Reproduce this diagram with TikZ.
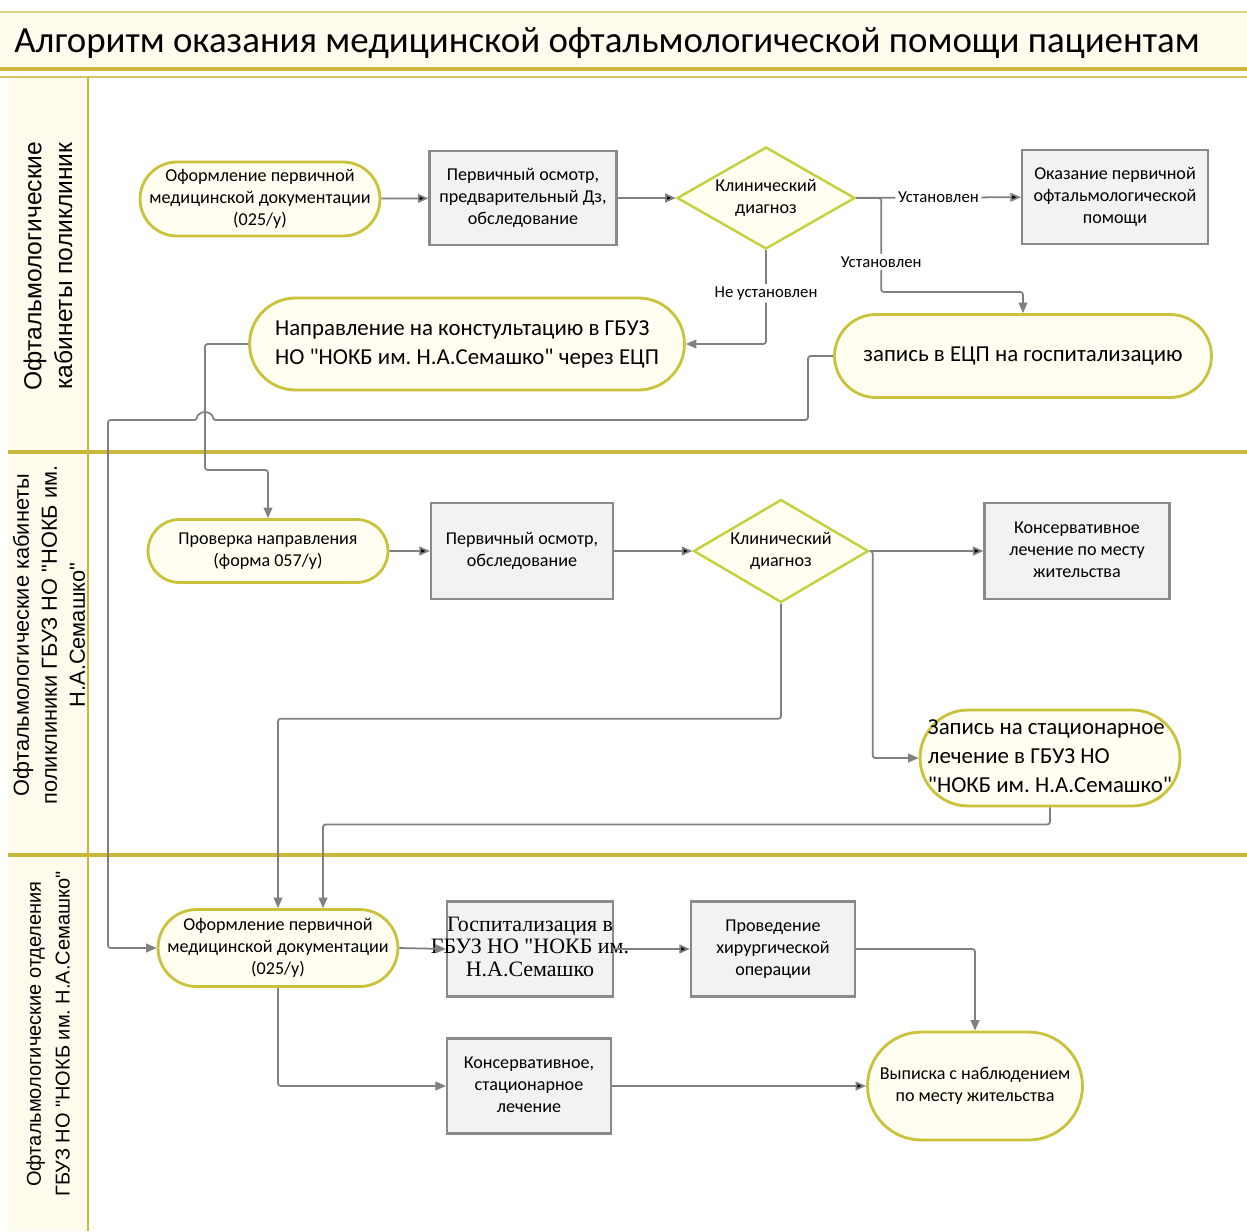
\documentclass[tikz,border=0pt]{standalone}
\usepackage{fontspec}
\newfontfamily\flowfont{Carlito}
\newfontfamily\lanefont{Liberation Sans}
\newfontfamily\serifbox{Liberation Serif}
\usetikzlibrary{arrows.meta, shapes.geometric, shapes.misc, calc}
\definecolor{lanegold}{HTML}{C8B83C}
\definecolor{bandfill}{HTML}{FFFCEE}
\definecolor{termline}{HTML}{C9C23A}
\definecolor{termfill}{HTML}{FFFEF0}
\definecolor{decline}{HTML}{C6D03E}
\definecolor{boxline}{HTML}{8A8A8A}
\definecolor{boxfill}{HTML}{F2F2F2}
\definecolor{flowgrey}{HTML}{808080}
\newcommand*{\boxtext}[2][c]{\makebox[0pt]{\begin{tabular}{@{}#1@{}}#2\end{tabular}}}
\frenchspacing

\begin{document}
\flowfont
\begin{tikzpicture}[x=0.02cm, y=-0.02cm, >={Triangle[length=6pt,width=5pt]},
      flow/.style={draw=flowgrey, line width=1pt, rounded corners=1.5pt},
      term/.style={rounded rectangle, draw=termline, fill=termfill, line width=1.6pt, inner sep=0pt,
        font=\fontsize{10.3}{12.5}\selectfont},
      bigterm/.style={term, font=\fontsize{13}{16.5}\selectfont},
      proc/.style={rectangle, draw=boxline, fill=boxfill, line width=1.2pt, inner sep=0pt,
        font=\fontsize{10.3}{12.5}\selectfont},
      decision/.style={diamond, draw=decline, fill=termfill, line width=1.4pt, inner sep=0pt,
        font=\fontsize{10.3}{12.5}\selectfont},
      lbl/.style={fill=white, inner sep=1.5pt, font=\fontsize{9.5}{11}\selectfont},
      lane/.style={rotate=90, align=center, font=\lanefont\fontsize{14}{17.5}\selectfont}]
  \useasboundingbox (0,0) rectangle (1247,1231);
  % title band and swimlanes
  \fill[bandfill] (0,12) rectangle (1247,70);
  \fill[bandfill] (8,78) rectangle (88,1231);
  \draw[lanegold!60, line width=1pt] (0,12) -- (1247,12);
  \draw[lanegold, line width=2pt] (0,69) -- (1247,69);
  \draw[lanegold!80, line width=1pt] (0,77) -- (1247,77);
  \draw[lanegold, line width=2pt] (8,452) -- (1247,452) (8,855) -- (1247,855);
  \draw[lanegold, line width=1.5pt] (88,77) -- (88,1231);
  \node[anchor=west, inner sep=0pt, font=\fontsize{21}{25}\selectfont] (title) at (14,43)
    {Алгоритм оказания медицинской офтальмологической помощи пациентам};
  \node[lane] (lane_1) at (48,266) {Офтальмологические\\кабинеты поликлиник};
  \node[lane, font=\lanefont\fontsize{12.4}{15.9}\selectfont] (lane_2) at (49,635)
    {Офтальмологические кабинеты\\поликлиники ГБУЗ НО "НОКБ им.\\Н.А.Семашко"};
  \node[lane, font=\lanefont\fontsize{11.4}{16.4}\selectfont] (lane_3) at (48,1034)
    {Офтальмологические отделения\\ГБУЗ НО "НОКБ им. Н.А.Семашко"};

  \node[term, minimum width=4.8cm, minimum height=1.48cm] (a_1) at (260,199)
    {\boxtext{Оформление первичной\\медицинской документации\\(025/у)}};
  \node[proc, minimum width=3.74cm, minimum height=1.88cm] (a_2) at (523,198)
    {\boxtext{Первичный осмотр,\\предварительный Дз,\\обследование}};
  \node[decision, minimum width=3.56cm, minimum height=2.04cm] (a_3) at (766,198)
    {\boxtext{Клинический\\диагноз}};
  \node[proc, minimum width=3.72cm, minimum height=1.88cm] (a_4) at (1115,197)
    {\boxtext{Оказание первичной\\офтальмологической\\помощи}};
  \node[bigterm, minimum width=8.7cm, minimum height=1.84cm] (a_5) at (467,344)
    {\boxtext[l]{Направление на констультацию в ГБУЗ\\НО "НОКБ им. Н.А.Семашко" через ЕЦП}};
  \node[bigterm, minimum width=7.54cm, minimum height=1.66cm] (a_6) at (1023,356)
    {\boxtext{запись в ЕЦП на госпитализацию}};

  \node[term, minimum width=4.8cm, minimum height=1.26cm] (b_1) at (268,551)
    {\boxtext{Проверка направления\\(форма 057/у)}};
  \node[proc, minimum width=3.64cm, minimum height=1.92cm] (b_2) at (522,551)
    {\boxtext{Первичный осмотр,\\обследование}};
  \node[decision, minimum width=3.5cm, minimum height=2.06cm] (b_3) at (781,551)
    {\boxtext{Клинический\\диагноз}};
  \node[proc, minimum width=3.7cm, minimum height=1.92cm] (b_4) at (1077,551)
    {\boxtext{Консервативное\\лечение по месту\\жительства}};
  \node[bigterm, minimum width=5.2cm, minimum height=1.92cm] (b_5) at (1050,758)
    {\boxtext[l]{Запись на стационарное\\лечение в ГБУЗ НО\\"НОКБ им. Н.А.Семашко"}};

  \node[term, minimum width=4.8cm, minimum height=1.54cm] (c_1) at (278,948)
    {\boxtext{Оформление первичной\\медицинской документации\\(025/у)}};
  \node[proc, minimum width=3.32cm, minimum height=1.9cm, font=\serifbox\fontsize{12.5}{12.8}\selectfont]
    (c_2) at (530,949) {\boxtext{Госпитализация в\\ГБУЗ НО "НОКБ им.\\Н.А.Семашко}};
  \node[proc, minimum width=3.28cm, minimum height=1.9cm] (c_3) at (773,949)
    {\boxtext{Проведение\\хирургической\\операции}};
  \node[proc, minimum width=3.28cm, minimum height=1.9cm] (c_4) at (529,1086)
    {\boxtext{Консервативное,\\стационарное\\лечение}};
  \node[term, minimum width=4.3cm, minimum height=2.16cm] (c_5) at (975,1086)
    {\boxtext{Выписка с наблюдением\\по месту жительства}};

  \coordinate (h_1) at (205,470);
  \coordinate (h_2) at (808,420);
  \coordinate (h_3) at (108,420);

  \path[flow, ->]
    (a_1) edge (a_2)
    (a_2) edge (a_3)
    (a_3) edge node[lbl] {Установлен} (a_4)
    (b_1) edge (b_2)
    (b_2) edge (b_3)
    (b_3) edge (b_4)
    (c_2) edge (c_3)
    (c_4) edge (c_5);
  \draw[flow, ->] (a_3.east) -- ++(25,0) -- node[lbl, pos=0.68] {Установлен} ++(0,94) -| (a_6.north);
  \draw[flow, ->] (a_3.south) |- node[lbl, pos=0.23] {Не установлен} (a_5.east);
  \draw[flow, ->] (a_5.west) -| (h_1) -| (b_1.north);
  \draw[flow, ->] (a_6.west) -| (h_2) -- ($(h_1 |- h_2)+(8,0)$)
    arc[start angle=0, end angle=-180, radius=8] -- (h_3) |- (c_1.west);
  \draw[flow, ->] (b_3.east) -- ++(3,0) |- (b_5.west);
  \draw[flow, ->] (b_3.south) -- ++(0,115) -| (c_1.north);
  \draw[flow, ->] (b_5.south) -- ++(0,17) -| ($(c_1.north)+(45,0)$);
  \draw[flow, ->] (c_1.east) -- (c_2.west);
  \draw[flow, ->] (c_3.east) -| (c_5.north);
  \draw[flow, ->] (c_1.south) |- (c_4.west);
\end{tikzpicture}
\end{document}
